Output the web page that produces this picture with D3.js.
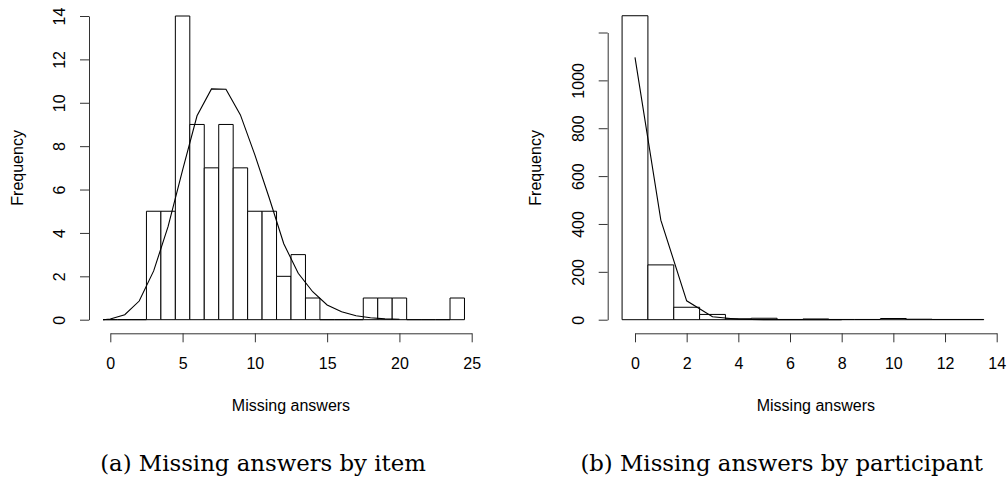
<!DOCTYPE html>
<html>
<head>
<meta charset="utf-8">
<script src="https://cdn.jsdelivr.net/npm/d3@7"></script>
<style>
  body { margin: 0; background: #fff; }
  svg { display: block; }
  .tick text, .lab { font-family: "Liberation Sans", Arial, sans-serif; font-size: 16px; fill: #000; }
  .cap { font-family: "DejaVu Serif", serif; font-size: 22.8px; fill: #000; }
</style>
</head>
<body>
<svg width="1008" height="479"></svg>
<script>
// (a) missing answers by item: counts per value 0..24
const itemValues = d3.range(0, 25);
const itemCounts = [0, 0, 0, 5, 5, 14, 9, 7, 9, 7, 5, 5, 2, 3, 1, 0, 0, 0, 1, 1, 1, 0, 0, 0, 1];
const itemCurveX = [-0.5, 0, 1, 2, 3, 4, 5, 6, 7, 8, 9, 10, 11, 12, 13, 14, 15, 16, 17, 18, 19, 20];
const itemCurveY = [0, 0.03, 0.23, 0.86, 2.25, 4.3, 6.9, 9.4, 10.64, 10.62, 9.44, 7.6, 5.6, 3.5, 2.14, 1.29, 0.68, 0.37, 0.18, 0.09, 0.04, 0.02];
const itemXTicks = [0, 5, 10, 15, 20, 25];
const itemYTicks = [0, 2, 4, 6, 8, 10, 12, 14];

// (b) missing answers by participant: counts per value 0..13
const partValues = d3.range(0, 14);
const partCounts = [1270, 229, 52, 22, 4, 6, 1, 3, 1, 1, 5, 2, 1, 1];
const partCurveX = [0, 1, 2, 3, 4, 5, 6, 7, 8];
const partCurveY = [1096, 416, 79, 12.5, 2, 0.3, 0.05, 0, 0];
const partXTicks = [0, 2, 4, 6, 8, 10, 12, 14];
const partYTicks = [0, 200, 400, 600, 800, 1000, 1200];
const partYLabels = [0, 200, 400, 600, 800, 1000];

const svg = d3.select("svg");

function panel(opt) {
  const x = d3.scaleLinear().domain(opt.xDomain).range(opt.xRange);
  const y = d3.scaleLinear().domain(opt.yDomain).range([319.7, opt.yTop]);
  const g = svg.append("g");

  // bars (zero counts still show as a line on the baseline)
  g.append("g")
    .selectAll("path")
    .data(opt.values.map((v, i) => ({v, n: opt.counts[i]})))
    .join("path")
    .attr("d", d => {
      const p = d3.path();
      p.moveTo(x(d.v - 0.5), y(0));
      p.lineTo(x(d.v - 0.5), y(d.n));
      p.lineTo(x(d.v + 0.5), y(d.n));
      p.lineTo(x(d.v + 0.5), y(0));
      p.closePath();
      return p.toString();
    })
    .attr("fill", "#fff")
    .attr("stroke", "#000")
    .attr("stroke-width", 1);

  const line = d3.line().x(d => x(d[0])).y(d => y(d[1]));
  g.append("path")
    .datum(opt.curveX.map((v, i) => [v, opt.curveY[i]]))
    .attr("d", line)
    .attr("fill", "none")
    .attr("stroke", "#000")
    .attr("stroke-width", 1.1);

  const xAxis = g.append("g")
    .attr("transform", "translate(0,333.3)")
    .call(d3.axisBottom(x).tickValues(opt.xTicks).tickSize(9).tickSizeOuter(0));
  xAxis.selectAll(".tick text").attr("y", 35.4).attr("dy", 0);

  const yAxis = g.append("g")
    .attr("transform", `translate(${opt.yAxisX},0)`)
    .call(d3.axisLeft(y).tickValues(opt.yTicks).tickSize(9).tickSizeOuter(0)
      .tickFormat(d => opt.yLabels.includes(d) ? d : ""));
  yAxis.selectAll(".tick text")
    .attr("x", 0).attr("dy", 0)
    .attr("text-anchor", "middle")
    .attr("transform", "translate(-24.2,0) rotate(-90)");

  g.selectAll(".domain, .tick line").attr("stroke", "#333").attr("stroke-width", 1);

  g.append("text").attr("class", "lab")
    .attr("text-anchor", "middle")
    .attr("transform", `translate(${opt.yAxisX - opt.freqOff},167.9) rotate(-90)`)
    .text("Frequency");

  g.append("text").attr("class", "lab")
    .attr("text-anchor", "middle")
    .attr("x", (opt.xRange[0] + opt.xRange[1]) / 2)
    .attr("y", 410.7)
    .text("Missing answers");

  g.append("text").attr("class", "cap")
    .attr("text-anchor", "middle")
    .attr("x", opt.capX)
    .attr("y", 470.7)
    .text(opt.caption);
}

panel({
  values: itemValues, counts: itemCounts,
  curveX: itemCurveX, curveY: itemCurveY,
  xDomain: [0, 25], xRange: [110.3, 471.7],
  yDomain: [0, 14], yTop: 16,
  xTicks: itemXTicks, yTicks: itemYTicks, yLabels: itemYTicks,
  yAxisX: 89, freqOff: 66.3,
  capX: 263, caption: "(a) Missing answers by item"
});

panel({
  values: partValues, counts: partCounts,
  curveX: partCurveX, curveY: partCurveY,
  xDomain: [0, 14], xRange: [635, 996.7],
  yDomain: [0, 1200], yTop: 32.5,
  xTicks: partXTicks, yTicks: partYTicks, yLabels: partYLabels,
  yAxisX: 607.7, freqOff: 67,
  capX: 781.7, caption: "(b) Missing answers by participant"
});
</script>
</body>
</html>
